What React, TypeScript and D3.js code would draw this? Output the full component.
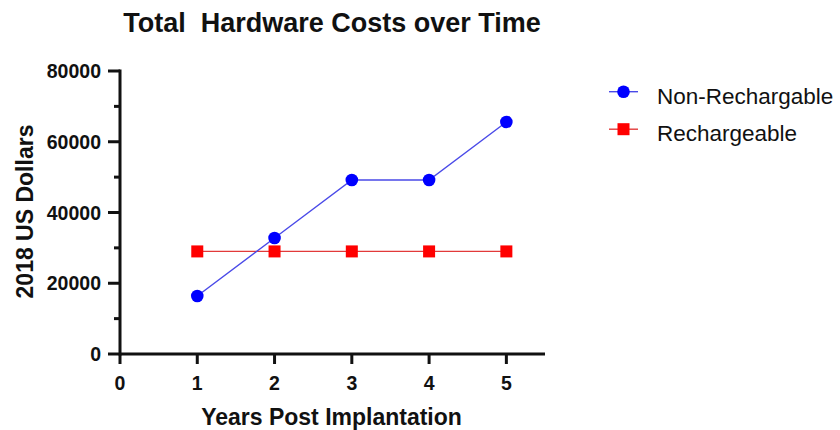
import * as d3 from 'd3';

const years = [1, 2, 3, 4, 5];
const nonRechargable = [16400, 32800, 49200, 49200, 65600];
const rechargeable = [29000, 29000, 29000, 29000, 29000];
const xTicks = [0, 1, 2, 3, 4, 5];
const yTicks = [0, 20000, 40000, 60000, 80000];
const yMinorTicks = [10000, 30000, 50000, 70000];

const series = [
  { name: 'Non-Rechargable', values: nonRechargable, color: '#0000ff', line: '#4a4ae8', shape: 'circle' },
  { name: 'Rechargeable', values: rechargeable, color: '#ff0000', line: '#e23a3a', shape: 'square' },
];

const FONT = '"Liberation Sans", Arial, Helvetica, sans-serif';

export default function App() {
  const W = 840, H = 430;
  const margin = { left: 120, top: 71, right: 295, bottom: 76 };
  const x = d3.scaleLinear().domain([0, 5.5]).range([margin.left, W - margin.right]);
  const y = d3.scaleLinear().domain([0, 80000]).range([H - margin.bottom, margin.top]);

  const line = d3.line<number>()
    .x((_, i) => x(years[i]))
    .y(d => y(d));

  const marker = (shape: string, cx: number, cy: number, color: string, key: any) =>
    shape === 'circle'
      ? <circle key={key} cx={cx} cy={cy} r={6.3} fill={color} />
      : <rect key={key} x={cx - 6} y={cy - 6} width={12} height={12} fill={color} />;

  const x0 = x(0), yBase = y(0);

  return (
    <svg width={W} height={H} style={{ position: 'absolute', left: 0, top: 0, background: '#fff' }} fontFamily={FONT}>
      {/* title */}
      <text x={332} y={31.5} textAnchor="middle" fontSize={27} fontWeight="bold" fill="#111" style={{ whiteSpace: 'pre' }}>
        {'Total  Hardware Costs over Time'}
      </text>

      {/* y axis */}
      <line x1={x0} x2={x0} y1={y(80000) - 1.5} y2={yBase + 1.5} stroke="#111" strokeWidth={3} />
      {yTicks.map(t => (
        <g key={t}>
          <line x1={x0 - 12} x2={x0} y1={y(t)} y2={y(t)} stroke="#111" strokeWidth={3} />
          <text x={101} y={y(t) + 7} textAnchor="end" fontSize={19.5} fontWeight="bold" fill="#111">{String(t)}</text>
        </g>
      ))}
      {yMinorTicks.map(t => (
        <line key={t} x1={x0 - 6} x2={x0} y1={y(t)} y2={y(t)} stroke="#111" strokeWidth={3} />
      ))}

      {/* x axis */}
      <line x1={x0} x2={x(5.5)} y1={yBase} y2={yBase} stroke="#111" strokeWidth={3} />
      {xTicks.map(t => (
        <g key={t}>
          <line x1={x(t)} x2={x(t)} y1={yBase} y2={yBase + 10} stroke="#111" strokeWidth={3} />
          <text x={x(t)} y={390} textAnchor="middle" fontSize={19.5} fontWeight="bold" fill="#111">{t}</text>
        </g>
      ))}

      <text x={331.5} y={425} textAnchor="middle" fontSize={23} fontWeight="bold" fill="#111">Years Post Implantation</text>
      <text transform={`translate(32.5,211.5) rotate(-90)`} textAnchor="middle" fontSize={23} fontWeight="bold" fill="#111">2018 US Dollars</text>

      {/* series: red first so blue sits on top */}
      {[series[1], series[0]].map(s => (
        <g key={s.name}>
          <path d={line(s.values) || ''} fill="none" stroke={s.line} strokeWidth={1.4} />
          {s.values.map((v, i) => marker(s.shape, x(years[i]), y(v), s.color, i))}
        </g>
      ))}

      {/* legend */}
      {series.map((s, i) => {
        const ly = 91.7 + i * 37.5;
        return (
          <g key={s.name}>
            <line x1={609} x2={638} y1={ly} y2={ly} stroke={s.line} strokeWidth={1.4} />
            {marker(s.shape, 623.5, ly, s.color, 'm')}
            <text x={657} y={ly + 6} dominantBaseline="middle" fontSize={22.5} fill="#111">{s.name}</text>
          </g>
        );
      })}
    </svg>
  );
}
